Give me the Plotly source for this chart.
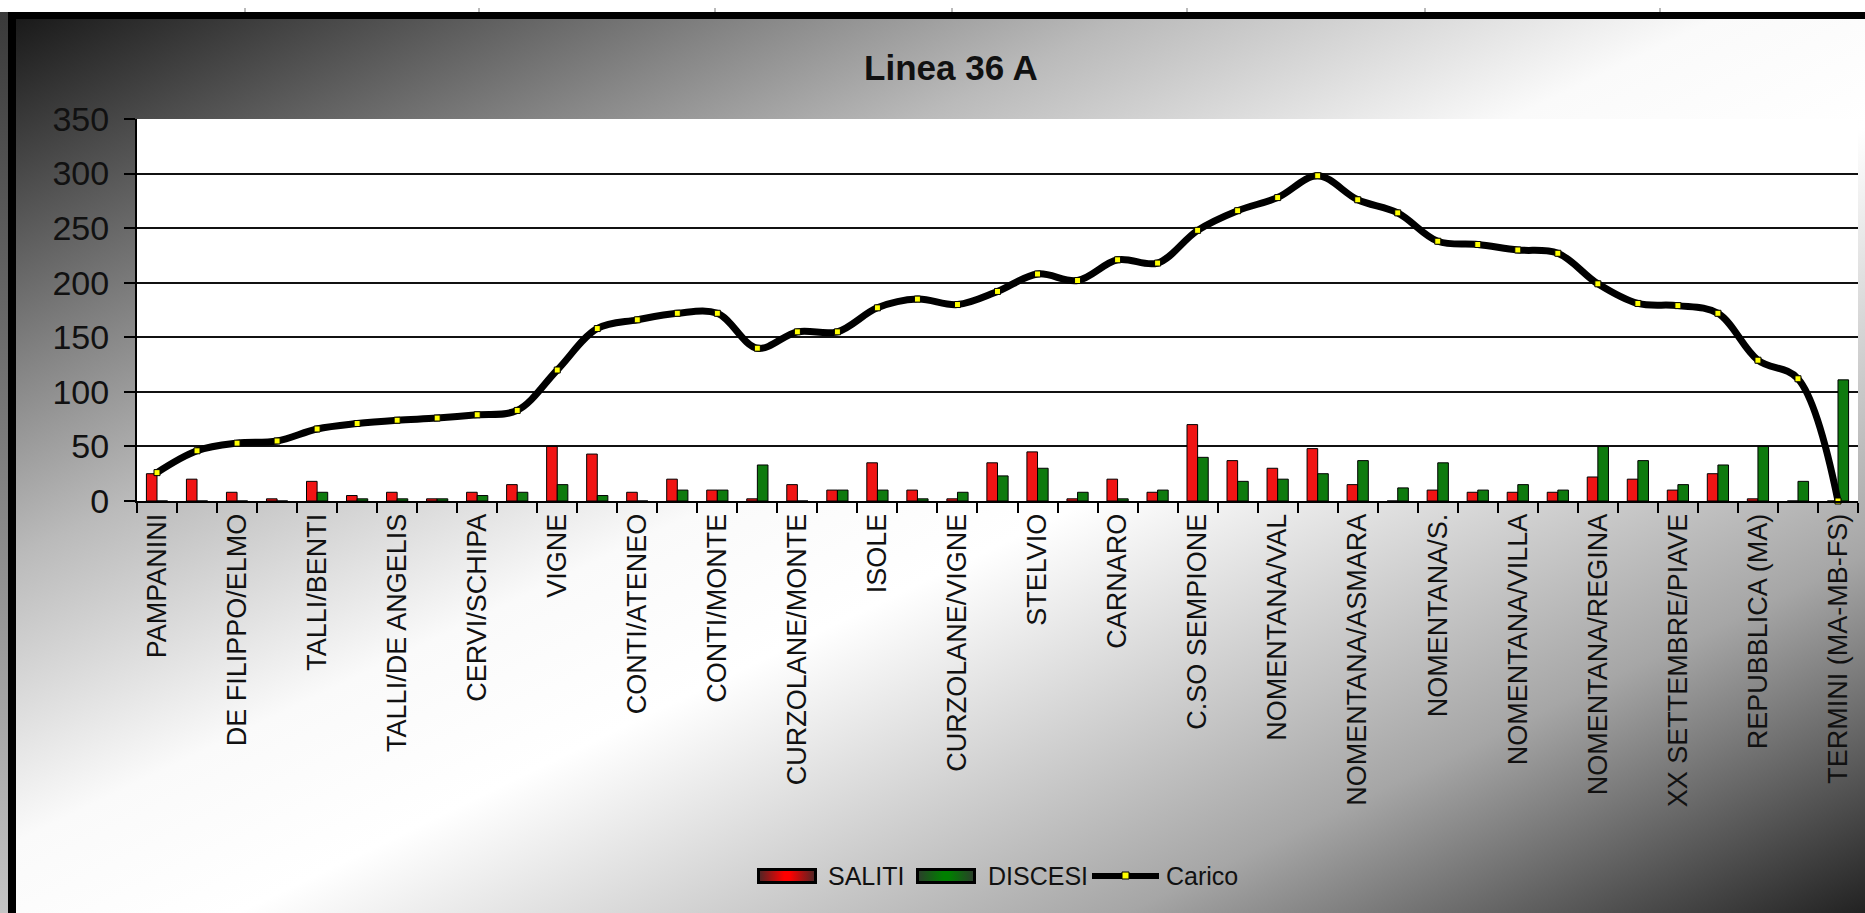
import base64
import plotly.graph_objects as go

# fermate con etichetta (Excel mostra un'etichetta ogni due fermate)
fermate = [
    "PAMPANINI", "DE FILIPPO/ELMO", "TALLI/BENTI", "TALLI/DE ANGELIS",
    "CERVI/SCHIPA", "VIGNE", "CONTI/ATENEO", "CONTI/MONTE",
    "CURZOLANE/MONTE", "ISOLE", "CURZOLANE/VIGNE", "STELVIO", "CARNARO",
    "C.SO SEMPIONE", "NOMENTANA/VAL", "NOMENTANA/ASMARA", "NOMENTANA/S.",
    "NOMENTANA/VILLA", "NOMENTANA/REGINA", "XX SETTEMBRE/PIAVE",
    "REPUBBLICA (MA)", "TERMINI (MA-MB-FS)",
]

saliti = [25, 20, 8, 2, 18, 5, 8, 2, 8, 15, 50, 43, 8, 20, 10, 2, 15, 10, 35,
          10, 2, 35, 45, 2, 20, 8, 70, 37, 30, 48, 15, 0, 10, 8, 8, 8, 22, 20,
          10, 25, 2, 0, 0]
discesi = [0, 0, 0, 0, 8, 2, 2, 2, 5, 8, 15, 5, 0, 10, 10, 33, 0, 10, 10, 2,
           8, 23, 30, 8, 2, 10, 40, 18, 20, 25, 37, 12, 35, 10, 15, 10, 50,
           37, 15, 33, 50, 18, 111]
carico = [26, 46, 53, 55, 66, 71, 74, 76, 79, 83, 120, 158, 166, 172, 172,
          140, 155, 155, 177, 185, 180, 192, 208, 202, 221, 218, 248, 266,
          278, 298, 276, 264, 238, 235, 230, 227, 199, 181, 179, 172, 129,
          112, 0]

pos = list(range(len(carico)))

W, H = 1865, 913
ML, MR, MT, MB = 137, 7, 119, 412
PW = W - ML - MR
PH = H - MT - MB
FONT = "Liberation Sans, Arial, sans-serif"


def fx(px):
    return (px - ML) / PW


def fy(py):
    return (H - MB - py) / PH


def svg_uri(svg):
    return "data:image/svg+xml;base64," + base64.b64encode(svg.encode()).decode()


ruler = "".join(
    f"<rect x='{x}' y='8' width='2' height='4' fill='#bbb'/>"
    for x in [244, 478, 714, 951, 1186, 1424, 1659]
)
sfondo = svg_uri(
    f"<svg xmlns='http://www.w3.org/2000/svg' width='{W}' height='{H}' "
    f"viewBox='0 0 {W} {H}' preserveAspectRatio='none'>"
    "<defs>"
    "<linearGradient id='g' x1='0' y1='0' x2='1' y2='1'>"
    "<stop offset='0' stop-color='#1a1a1a'/>"
    "<stop offset='0.2' stop-color='#868686'/>"
    "<stop offset='0.3' stop-color='#bababa'/>"
    "<stop offset='0.46' stop-color='#fafafa'/>"
    "<stop offset='0.56' stop-color='#ffffff'/>"
    "<stop offset='0.8' stop-color='#a6a6a6'/>"
    "<stop offset='1' stop-color='#222222'/>"
    "</linearGradient>"
    "<linearGradient id='s' x1='0' y1='0' x2='0' y2='1'>"
    "<stop offset='0' stop-color='#3a3a3a'/>"
    "<stop offset='1' stop-color='#c4c4c4'/>"
    "</linearGradient>"
    "</defs>"
    f"<rect x='16' y='19' width='{W - 16}' height='{H - 19}' fill='url(#g)'/>"
    f"<rect x='0' y='0' width='{W}' height='12' fill='#ffffff'/>"
    f"<rect x='0' y='12' width='{W}' height='7' fill='#000000'/>"
    f"<rect x='0' y='12' width='8' height='{H - 12}' fill='url(#s)'/>"
    f"<rect x='8' y='12' width='8' height='{H - 12}' fill='#000000'/>"
    + ruler + "</svg>"
)


def swatch(centro, bordo):
    return svg_uri(
        "<svg xmlns='http://www.w3.org/2000/svg' width='60' height='16' "
        "viewBox='0 0 60 16' preserveAspectRatio='none'>"
        "<defs><linearGradient id='h' x1='0' y1='0' x2='1' y2='0'>"
        f"<stop offset='0' stop-color='{bordo}'/>"
        f"<stop offset='0.45' stop-color='{centro}'/>"
        f"<stop offset='0.55' stop-color='{centro}'/>"
        f"<stop offset='1' stop-color='{bordo}'/>"
        "</linearGradient></defs>"
        "<rect x='1.5' y='1.5' width='57' height='13' fill='url(#h)' "
        "stroke='#000' stroke-width='3'/></svg>"
    )


fig = go.Figure()

fig.add_bar(
    x=pos, y=saliti, name="SALITI",
    marker=dict(color="#f01414", line=dict(color="black", width=1)),
)
fig.add_bar(
    x=pos, y=discesi, name="DISCESI",
    marker=dict(color="#0e7a0e", line=dict(color="black", width=1)),
)
fig.add_scatter(
    x=pos, y=carico, name="Carico", mode="lines+markers", cliponaxis=False,
    line=dict(color="black", width=7, shape="spline", smoothing=1),
    marker=dict(symbol="square", size=6, color="#ffff00",
                line=dict(color="black", width=1)),
)

images = [
    dict(source=sfondo, xref="paper", yref="paper", x=fx(0), y=fy(0),
         sizex=W / PW, sizey=H / PH, xanchor="left", yanchor="top",
         sizing="stretch", layer="below"),
    dict(source=swatch("#ff0000", "#4a2626"), xref="paper", yref="paper",
         x=fx(757), y=fy(868), sizex=60 / PW, sizey=16 / PH,
         xanchor="left", yanchor="top", sizing="stretch", layer="above"),
    dict(source=swatch("#008000", "#2c3c2c"), xref="paper", yref="paper",
         x=fx(916), y=fy(868), sizex=60 / PW, sizey=16 / PH,
         xanchor="left", yanchor="top", sizing="stretch", layer="above"),
]

shapes = [
    # area del grafico bianca sopra lo sfondo sfumato
    dict(type="rect", xref="paper", yref="paper", x0=0, x1=1, y0=0, y1=1,
         fillcolor="white", line=dict(width=0), layer="below"),
    # simbolo legenda Carico
    dict(type="line", xref="paper", yref="paper", x0=fx(1092), x1=fx(1159),
         y0=fy(876), y1=fy(876), line=dict(color="black", width=6)),
    dict(type="rect", xref="paper", yref="paper", x0=fx(1122), x1=fx(1129),
         y0=fy(872), y1=fy(879), fillcolor="#ffff00",
         line=dict(color="black", width=1)),
]

annotations = [
    dict(text=t, x=fx(px), y=fy(876), xref="paper", yref="paper",
         xanchor="left", yanchor="middle", showarrow=False,
         font=dict(family=FONT, size=25, color="#111"))
    for t, px in [("SALITI", 826), ("DISCESI", 986), ("Carico", 1164)]
]

fig.update_layout(
    width=W, height=H,
    margin=dict(l=ML, r=MR, t=MT, b=MB, autoexpand=False),
    paper_bgcolor="white", plot_bgcolor="white",
    showlegend=False,
    barmode="group", bargap=0.47, bargroupgap=0,
    title=dict(text="<b>Linea 36 A</b>", x=951 / W, y=1 - 68 / H,
               xref="container", yref="container",
               xanchor="center", yanchor="middle",
               font=dict(family=FONT, size=35, color="#111")),
    xaxis=dict(
        range=[-0.5, len(pos) - 0.5],
        tickmode="array", tickvals=pos[::2], ticktext=fermate,
        tickangle=-90, ticks="",
        tickfont=dict(family=FONT, size=27, color="#111"),
        showline=True, linecolor="black", linewidth=2,
        showgrid=False, zeroline=False,
        minor=dict(tickmode="array",
                   tickvals=[p - 0.5 for p in pos] + [pos[-1] + 0.5],
                   ticks="outside", ticklen=10, tickwidth=1.5,
                   tickcolor="black", showgrid=False),
    ),
    yaxis=dict(
        range=[0, 350], tick0=0, dtick=50,
        showgrid=True, gridcolor="#111", gridwidth=1.5,
        ticks="outside", ticklen=11, tickwidth=1.5, tickcolor="black",
        ticklabelstandoff=8,
        tickfont=dict(family=FONT, size=34, color="#111"),
        showline=True, linecolor="black", linewidth=2, zeroline=False,
    ),
    images=images, shapes=shapes, annotations=annotations,
)

fig.write_html(
    "out.html",
    config={"displayModeBar": False},
    post_script="document.body.style.margin='0';"
                "document.body.style.overflow='hidden';",
)
